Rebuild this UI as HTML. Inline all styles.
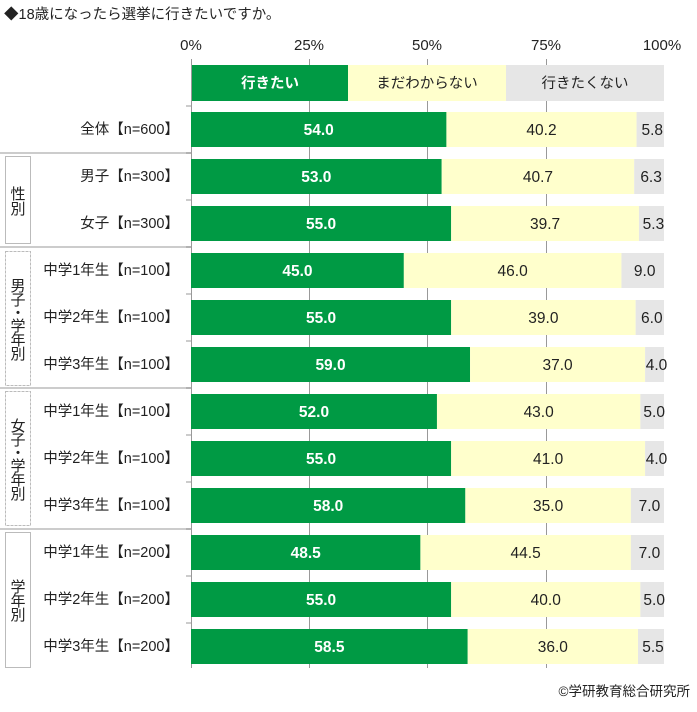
<!DOCTYPE html><html><head><meta charset="utf-8"><style>body{margin:0;background:#fff}</style></head><body>
<svg width="697" height="707" xmlns="http://www.w3.org/2000/svg" font-family="Liberation Sans, Noto Sans CJK JP, sans-serif">
<text x="4" y="19" font-size="14.5" fill="#222">◆18歳になったら選挙に行きたいですか。</text>
<g font-size="15" fill="#222" text-anchor="middle">
<text x="191" y="50">0%</text><text x="309" y="50">25%</text><text x="427" y="50">50%</text><text x="546" y="50">75%</text><text x="662" y="50">100%</text></g>
<g stroke="#999" stroke-width="1">
<line x1="309.5" y1="59" x2="309.5" y2="668"/><line x1="427.5" y1="59" x2="427.5" y2="668"/><line x1="546.5" y1="59" x2="546.5" y2="668"/></g>
<rect x="191" y="65" width="157" height="36" fill="#009a44"/><rect x="348" y="65" width="158" height="36" fill="#ffffcc"/><rect x="506" y="65" width="158" height="36" fill="#e6e6e6"/>
<g font-size="14.5" text-anchor="middle"><text x="270" y="88" fill="#fff" font-weight="bold">行きたい</text><text x="427" y="88" fill="#222">まだわからない</text><text x="585" y="88" fill="#222">行きたくない</text></g>
<g stroke="#ccc" stroke-width="2"><line x1="0" y1="153" x2="191" y2="153"/><line x1="0" y1="247" x2="191" y2="247"/><line x1="0" y1="388" x2="191" y2="388"/><line x1="0" y1="529" x2="191" y2="529"/></g>
<g fill="none" stroke="#bbb" stroke-width="1"><rect x="5.5" y="156.5" width="25" height="87"/><rect x="5.5" y="251.5" width="25" height="134" stroke-dasharray="3 1"/><rect x="5.5" y="391.5" width="25" height="134" stroke-dasharray="3 1"/><rect x="5.5" y="532.5" width="25" height="135"/></g>
<g font-size="15" fill="#222" text-anchor="middle">
<text x="18" y="199">性</text><text x="18" y="214">別</text>
<text x="18" y="291">男</text><text x="18" y="305">子</text><text x="18" y="318">・</text><text x="18" y="331">学</text><text x="18" y="345">年</text><text x="18" y="359">別</text>
<text x="18" y="431">女</text><text x="18" y="445">子</text><text x="18" y="458">・</text><text x="18" y="471">学</text><text x="18" y="485">年</text><text x="18" y="499">別</text>
<text x="18" y="592">学</text><text x="18" y="606">年</text><text x="18" y="620">別</text></g>
<line x1="191.5" y1="59" x2="191.5" y2="668" stroke="#999"/>
<g id="rows"></g>
<text x="690" y="696" font-size="13.5" fill="#222" text-anchor="end">©学研教育総合研究所</text>
</svg>
<script>
var d=[["全体【n=600】",54.0,40.2,5.8],["男子【n=300】",53.0,40.7,6.3],["女子【n=300】",55.0,39.7,5.3],["中学1年生【n=100】",45.0,46.0,9.0],["中学2年生【n=100】",55.0,39.0,6.0],["中学3年生【n=100】",59.0,37.0,4.0],["中学1年生【n=100】",52.0,43.0,5.0],["中学2年生【n=100】",55.0,41.0,4.0],["中学3年生【n=100】",58.0,35.0,7.0],["中学1年生【n=200】",48.5,44.5,7.0],["中学2年生【n=200】",55.0,40.0,5.0],["中学3年生【n=200】",58.5,36.0,5.5]];
var s="",X=191,W=473;
d.forEach(function(r,i){var y=112+i*47,a=X+r[1]/100*W,b=a+r[2]/100*W,c=X+W,cy=y+23;
s+='<rect x="'+X+'" y="'+y+'" width="'+(a-X)+'" height="35" fill="#009a44"/><rect x="'+a+'" y="'+y+'" width="'+(b-a)+'" height="35" fill="#ffffcc"/><rect x="'+b+'" y="'+y+'" width="'+(c-b)+'" height="35" fill="#e6e6e6"/>';
s+='<text x="'+((X+a)/2)+'" y="'+cy+'" font-size="15.5" font-weight="bold" fill="#fff" text-anchor="middle">'+r[1].toFixed(1)+'</text>';
s+='<text x="'+((a+b)/2)+'" y="'+cy+'" font-size="15.5" fill="#222" text-anchor="middle">'+r[2].toFixed(1)+'</text>';
s+='<text x="'+((b+c)/2+2)+'" y="'+cy+'" font-size="15.5" fill="#222" text-anchor="middle">'+r[3].toFixed(1)+'</text>';
s+='<text x="179" y="'+(cy-1)+'" font-size="14.5" fill="#222" text-anchor="end">'+r[0]+'</text>';
s+='<line x1="186" y1="'+(y-6)+'" x2="191" y2="'+(y-6)+'" stroke="#999"/>';});
document.getElementById("rows").innerHTML=s;
</script>
</body></html>
